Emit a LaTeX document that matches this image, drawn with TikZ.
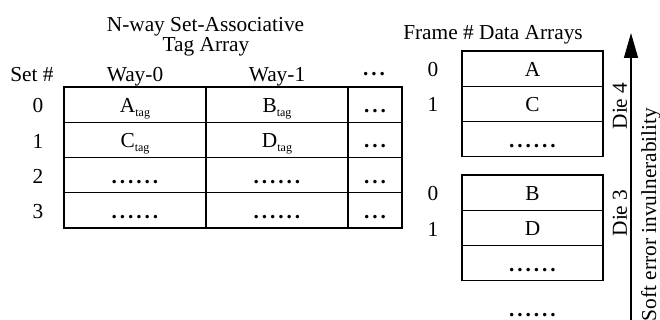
\documentclass[tikz,border=0pt]{standalone}
\usepackage{fontspec}
\setmainfont{Liberation Serif}
\usetikzlibrary{arrows.meta}

% rows of bold dots used as "more entries" markers
\newcommand\dotsix{\textbf{.\kern2.2pt.\kern2.2pt.\kern2.2pt.\kern2.2pt.\kern2.2pt.}}
\newcommand\dotthree{\textbf{.\kern2.2pt.\kern2.2pt.}}
\newcommand\tagsub{\raisebox{-3pt}{\fontsize{9}{10}\selectfont tag}}

\begin{document}
\begin{tikzpicture}[x=0.75pt,y=-0.75pt,
  font=\fontsize{16}{19}\selectfont,
  every node/.style={inner sep=0pt, outer sep=0pt},
  cell/.style={draw, line width=0.8pt, anchor=north west, minimum height=26.44pt,
    text height=12pt, text depth=0pt},
  wide/.style={cell, minimum width=106.5pt},
  narrow/.style={cell, minimum width=40.5pt},
  frame/.style={cell, minimum width=105.75pt, minimum height=26.5pt},
  lbl/.style={anchor=base}]

\useasboundingbox (0,0) rectangle (660,320);

% ---- tag array ----
\node[lbl] (title1) at (205.5,32) {N-way Set-Associative};
\node[lbl] (title2) at (206,52) {Tag Array};
\node[lbl] (sethdr) at (32,82) {Set \#};
\node[lbl] (way0) at (135,82) {Way-0};
\node[lbl] (way1) at (277,82) {Way-1};
\node (waymore) at (374,74) {\dotthree};

\node[wide]   (t00) at (64,87)      {A\tagsub};
\node[wide]   (t01) at (206,87)     {B\tagsub};
\node[narrow] (t02) at (348,87)     {\dotthree};
\node[wide]   (t10) at (64,122.25)  {C\tagsub};
\node[wide]   (t11) at (206,122.25) {D\tagsub};
\node[narrow] (t12) at (348,122.25) {\dotthree};
\node[wide]   (t20) at (64,157.5)   {\dotsix};
\node[wide]   (t21) at (206,157.5)  {\dotsix};
\node[narrow] (t22) at (348,157.5)  {\dotthree};
\node[wide]   (t30) at (64,192.75)  {\dotsix};
\node[wide]   (t31) at (206,192.75) {\dotsix};
\node[narrow] (t32) at (348,192.75) {\dotthree};

\node[lbl] (s0) at (38,113)   {0};
\node[lbl] (s1) at (38,148.2) {1};
\node[lbl] (s2) at (38,183.5) {2};
\node[lbl] (s3) at (38,218.7) {3};

% ---- data arrays ----
\node[lbl] (dtitle) at (493,40) {Frame \# Data Arrays};

\node[frame] (d4a) at (462,51)    {A};
\node[frame] (d4c) at (462,86.3)  {C};
\node[frame] (d4x) at (462,121.6) {\dotsix};
\node[frame] (d3b) at (462,175)   {B};
\node[frame] (d3d) at (462,210.3) {D};
\node[frame] (d3x) at (462,245.6) {\dotsix};
\node[lbl] (dmore) at (532.5,316) {\dotsix};

\node[lbl] (f40) at (433,77)  {0};
\node[lbl] (f41) at (433,112) {1};
\node[lbl] (f30) at (433,201) {0};
\node[lbl] (f31) at (433,236.3) {1};

% ---- die labels and vulnerability axis ----
\node[rotate=90] (die4) at (620,106) {Die 4};
\node[rotate=90] (die3) at (620,213) {Die 3};

\coordinate (axbot) at (631,320);
\coordinate (axtop) at (631,33);
\draw[line width=1pt, -{Triangle[length=18.75pt, width=10.5pt]}] (axbot) -- (axtop);
\node[rotate=90, anchor=base west] (axlabel) at (656,321) {Soft error invulnerability};

\end{tikzpicture}
\end{document}
